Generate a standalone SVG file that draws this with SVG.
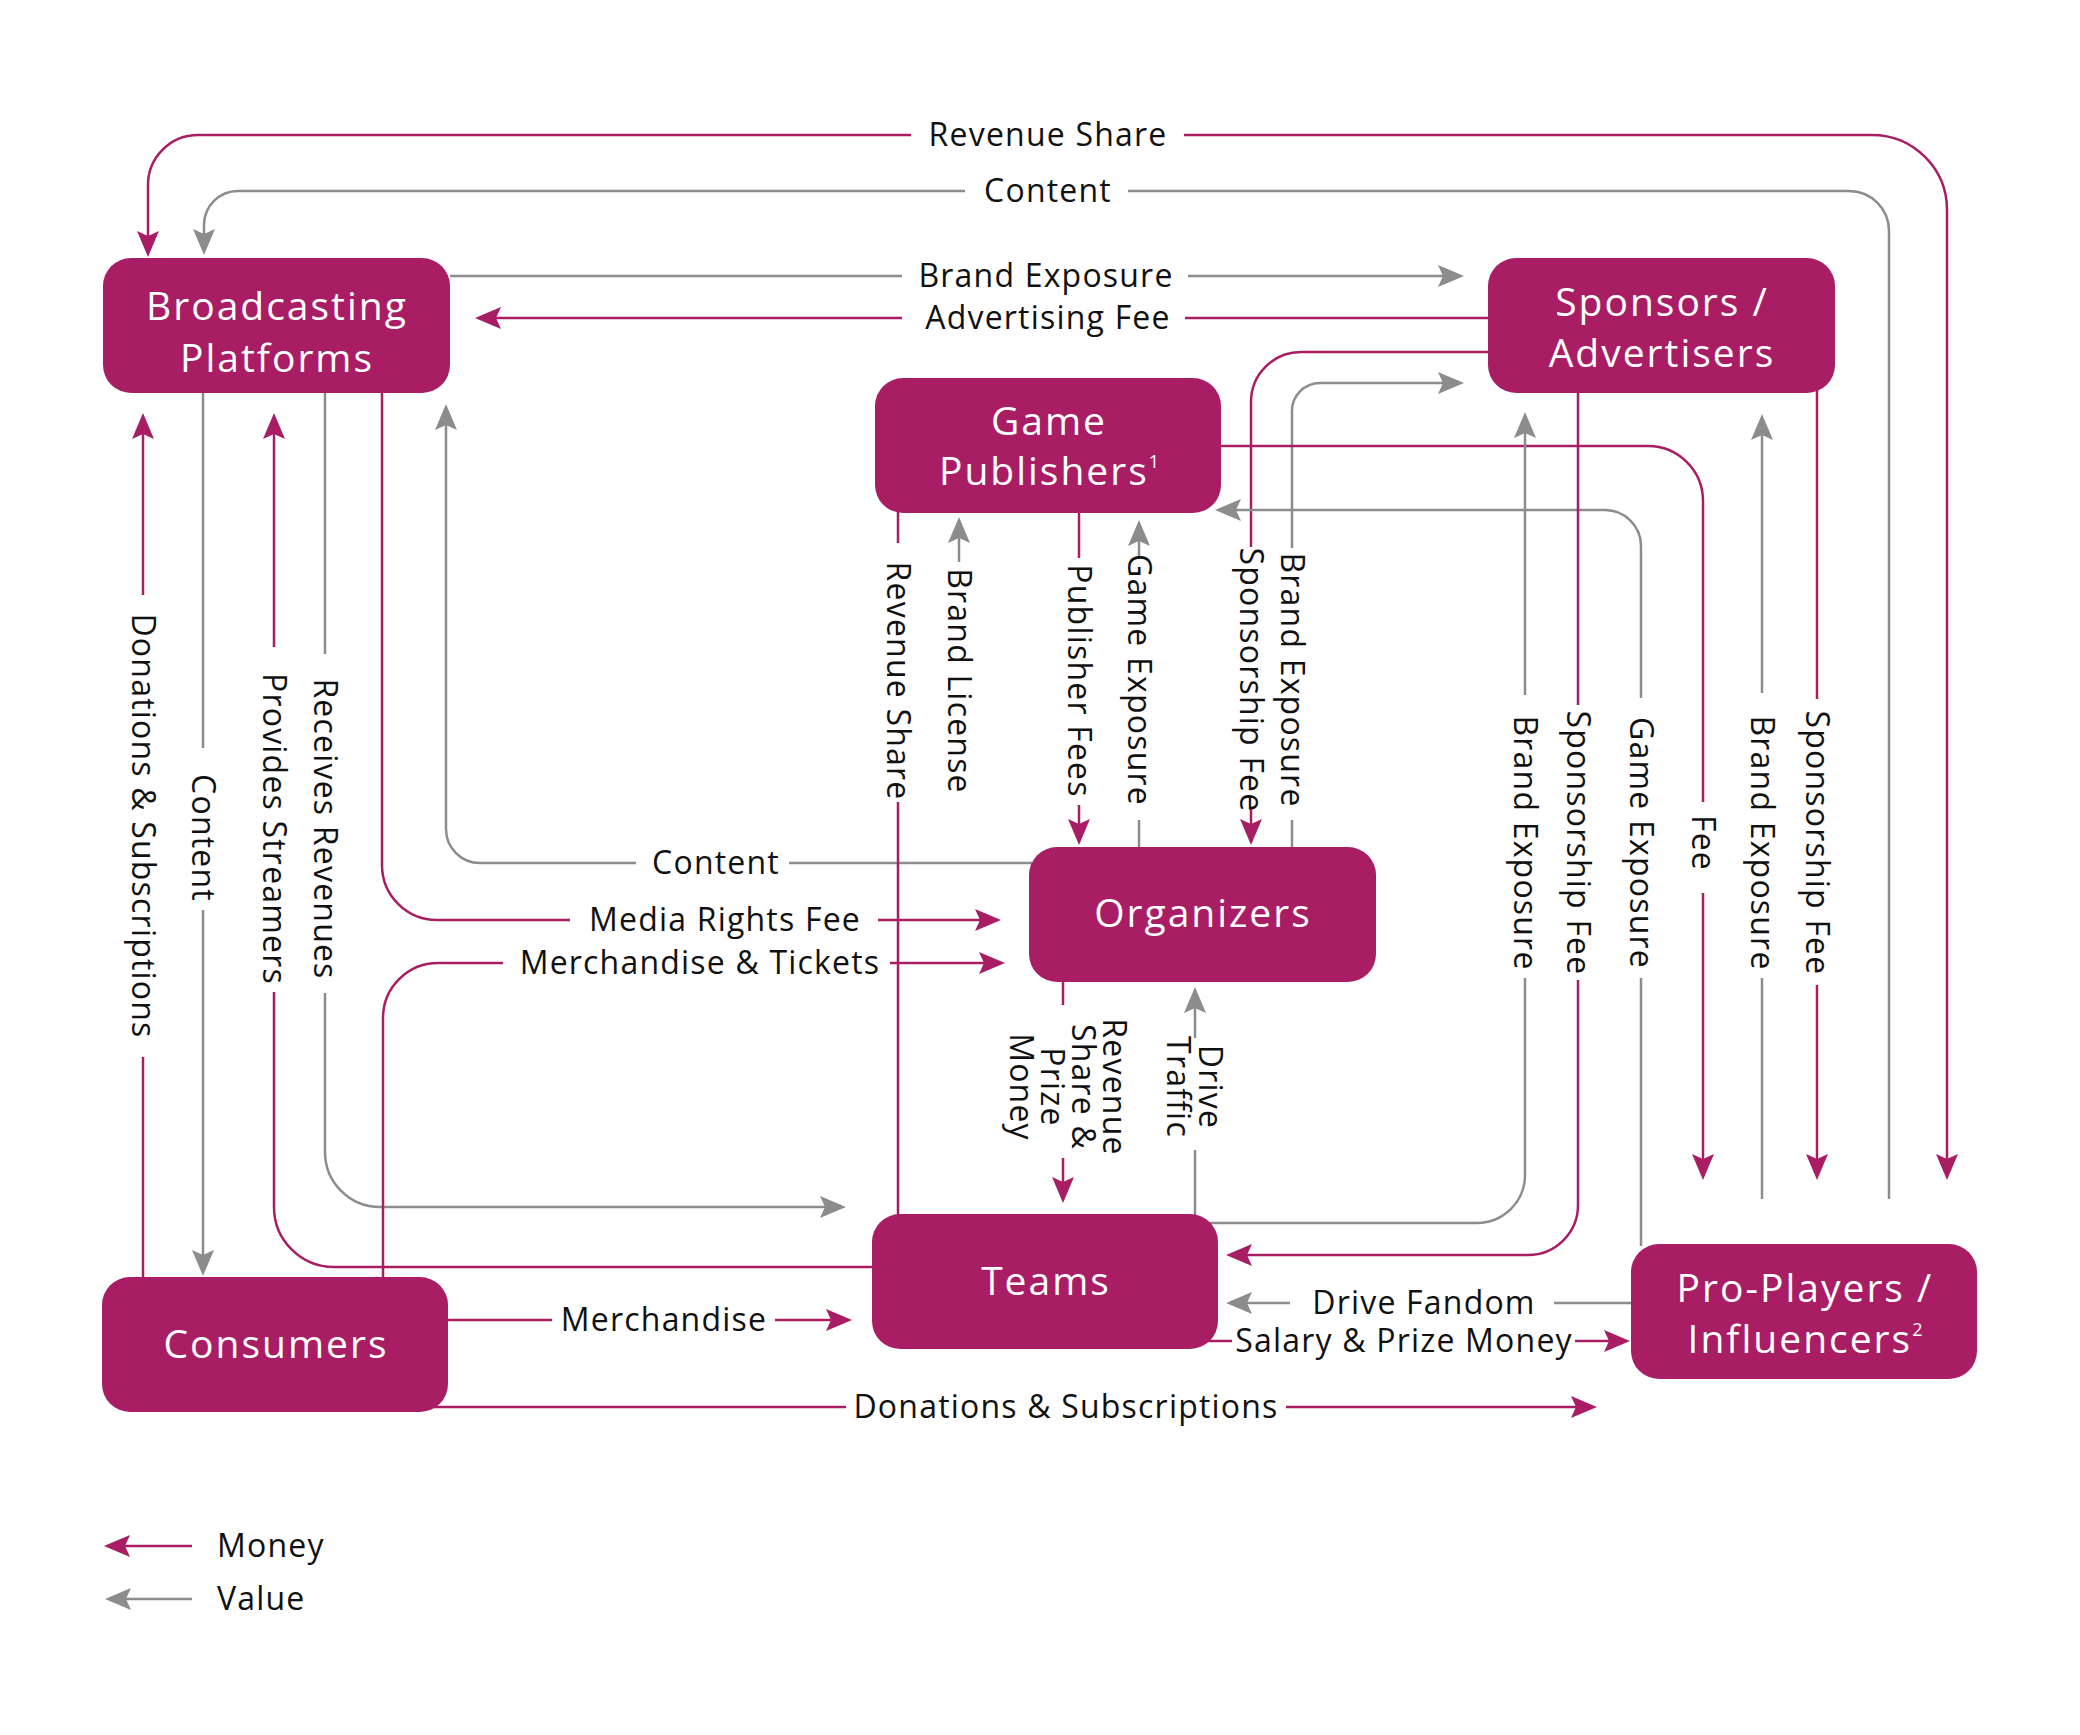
<svg xmlns="http://www.w3.org/2000/svg" width="2080" height="1735" viewBox="0 0 2080 1735">
<style>
.m{fill:none;stroke:#a91d65;stroke-width:2.5}
.g{fill:none;stroke:#8c8c8c;stroke-width:2.5}
.box{fill:#a91d65}
.nd{font-family:"Open Sans","Liberation Sans",sans-serif;font-size:39px;letter-spacing:2px;fill:#fff;text-anchor:middle}
.lb{font-family:"Open Sans","Liberation Sans",sans-serif;font-size:32px;letter-spacing:1.2px;fill:#111;text-anchor:middle}
.lg{font-family:"Open Sans","Liberation Sans",sans-serif;font-size:32px;letter-spacing:1.2px;fill:#111}
</style>
<defs>
<marker id="am" viewBox="-30 -12 32 24" markerWidth="32" markerHeight="24" refX="-4" refY="0" orient="auto" markerUnits="userSpaceOnUse"><path d="M0,0 L-26,-11 L-21,0 L-26,11 Z" fill="#a91d65"/></marker>
<marker id="ag" viewBox="-30 -12 32 24" markerWidth="32" markerHeight="24" refX="-4" refY="0" orient="auto" markerUnits="userSpaceOnUse"><path d="M0,0 L-26,-11 L-21,0 L-26,11 Z" fill="#8c8c8c"/></marker>
</defs>
<rect width="2080" height="1735" fill="#fff"/>

<g id="connectors">
<!-- Revenue Share (top) -->
<path class="m" d="M1184,135 L1872,135 A75,75 0 0 1 1947,210 L1947,1176" marker-end="url(#am)"/>
<path class="m" d="M911,135 L198,135 A50,50 0 0 0 148,185 L148,253" marker-end="url(#am)"/>
<!-- Content (top) -->
<path class="g" d="M1889,1199 L1889,231 A40,40 0 0 0 1849,191 L1128,191"/>
<path class="g" d="M965,191 L238,191 A34,34 0 0 0 204,225 L204,251" marker-end="url(#ag)"/>
<!-- Brand Exposure BP->SA -->
<path class="g" d="M450,276 L902,276"/>
<path class="g" d="M1188,276 L1460,276" marker-end="url(#ag)"/>
<!-- Advertising Fee -->
<path class="m" d="M1488,318 L1185,318"/>
<path class="m" d="M902,318 L479,318" marker-end="url(#am)"/>
<!-- Sponsorship Fee SA->ORG -->
<path class="m" d="M1490,352 L1301,352 A50,50 0 0 0 1251,402 L1251,547"/>
<path class="m" d="M1251,808 L1251,841" marker-end="url(#am)"/>
<!-- Brand Exposure ORG->SA -->
<path class="g" d="M1292,847 L1292,820"/>
<path class="g" d="M1292,548 L1292,411 A28,28 0 0 1 1320,383 L1460,383" marker-end="url(#ag)"/>
<!-- Fee GP->PRO -->
<path class="m" d="M1219,446 L1648,446 A55,55 0 0 1 1703,501 L1703,802"/>
<path class="m" d="M1703,893 L1703,1176" marker-end="url(#am)"/>
<!-- Game Exposure PRO->GP -->
<path class="g" d="M1641,1246 L1641,978"/>
<path class="g" d="M1641,698 L1641,546 A36,36 0 0 0 1605,510 L1219,510" marker-end="url(#ag)"/>
<!-- Brand Exposure TEAMS->SA -->
<path class="g" d="M1210,1223 L1477,1223 A48,48 0 0 0 1525,1175 L1525,978"/>
<path class="g" d="M1525,695 L1525,416" marker-end="url(#ag)"/>
<!-- Sponsorship Fee SA->TEAMS -->
<path class="m" d="M1578,391 L1578,705"/>
<path class="m" d="M1578,980 L1578,1205 A50,50 0 0 1 1528,1255 L1230,1255" marker-end="url(#am)"/>
<!-- Brand Exposure PRO->SA -->
<path class="g" d="M1762,1199 L1762,978"/>
<path class="g" d="M1762,693 L1762,418" marker-end="url(#ag)"/>
<!-- Sponsorship Fee SA->PRO -->
<path class="m" d="M1817,388 L1817,699"/>
<path class="m" d="M1817,985 L1817,1176" marker-end="url(#am)"/>
<!-- Donations & Subscriptions CONS->BP -->
<path class="m" d="M143,1280 L143,1057"/>
<path class="m" d="M143,595 L143,417" marker-end="url(#am)"/>
<!-- Content BP->CONS -->
<path class="g" d="M203,390 L203,748"/>
<path class="g" d="M203,910 L203,1272" marker-end="url(#ag)"/>
<!-- Provides Streamers TEAMS->BP -->
<path class="m" d="M875,1267 L334,1267 A60,60 0 0 1 274,1207 L274,992"/>
<path class="m" d="M274,647 L274,417" marker-end="url(#am)"/>
<!-- Receives Revenues BP->TEAMS -->
<path class="g" d="M325,390 L325,654"/>
<path class="g" d="M325,993 L325,1152 A55,55 0 0 0 380,1207 L842,1207" marker-end="url(#ag)"/>
<!-- Media Rights Fee BP->ORG -->
<path class="m" d="M382,390 L382,865 A55,55 0 0 0 437,920 L570,920"/>
<path class="m" d="M878,920 L997,920" marker-end="url(#am)"/>
<!-- Content ORG->BP -->
<path class="g" d="M1032,863 L789,863"/>
<path class="g" d="M636,863 L480,863 A34,34 0 0 1 446,829 L446,408" marker-end="url(#ag)"/>
<!-- Merchandise & Tickets CONS->ORG -->
<path class="m" d="M383,1280 L383,1018 A55,55 0 0 1 438,963 L503,963"/>
<path class="m" d="M890,963 L1001,963" marker-end="url(#am)"/>
<!-- Revenue Share GP-TEAMS -->
<path class="m" d="M898,510 L898,543"/>
<path class="m" d="M898,802 L898,1217"/>
<!-- Brand License -->
<path class="g" d="M959,562 L959,521" marker-end="url(#ag)"/>
<!-- Publisher Fees -->
<path class="m" d="M1079,510 L1079,558"/>
<path class="m" d="M1079,805 L1079,841" marker-end="url(#am)"/>
<!-- Game Exposure ORG->GP -->
<path class="g" d="M1139,850 L1139,820"/>
<path class="g" d="M1139,558 L1139,524" marker-end="url(#ag)"/>
<!-- Revenue Share & Prize Money ORG->TEAMS -->
<path class="m" d="M1063,979 L1063,1005"/>
<path class="m" d="M1063,1158 L1063,1199" marker-end="url(#am)"/>
<!-- Drive Traffic TEAMS->ORG -->
<path class="g" d="M1195,1217 L1195,1150"/>
<path class="g" d="M1195,1038 L1195,991" marker-end="url(#ag)"/>
<!-- Drive Fandom PRO->TEAMS -->
<path class="g" d="M1634,1303 L1554,1303"/>
<path class="g" d="M1290,1303 L1230,1303" marker-end="url(#ag)"/>
<!-- Salary & Prize Money TEAMS->PRO -->
<path class="m" d="M1205,1341 L1232,1341"/>
<path class="m" d="M1575,1341 L1626,1341" marker-end="url(#am)"/>
<!-- Merchandise CONS->TEAMS -->
<path class="m" d="M445,1320 L552,1320"/>
<path class="m" d="M775,1320 L848,1320" marker-end="url(#am)"/>
<!-- Donations & Subscriptions CONS->PRO -->
<path class="m" d="M420,1407 L846,1407"/>
<path class="m" d="M1286,1407 L1593,1407" marker-end="url(#am)"/>
</g>

<g id="labels">
<text class="lb" x="1048" y="146">Revenue Share</text>
<text class="lb" x="1048" y="202">Content</text>
<text class="lb" x="1046" y="287">Brand Exposure</text>
<text class="lb" x="1048" y="329">Advertising Fee</text>
<text class="lb" x="716" y="874">Content</text>
<text class="lb" x="725" y="931">Media Rights Fee</text>
<text class="lb" x="700" y="974">Merchandise &amp; Tickets</text>
<text class="lb" x="664" y="1331">Merchandise</text>
<text class="lb" x="1066" y="1418">Donations &amp; Subscriptions</text>
<text class="lb" x="1424" y="1314">Drive Fandom</text>
<text class="lb" x="1404" y="1352">Salary &amp; Prize Money</text>

<text class="lb" transform="translate(898,681) rotate(90)" dy="11">Revenue Share</text>
<text class="lb" transform="translate(959,681) rotate(90)" dy="11">Brand License</text>
<text class="lb" transform="translate(1079,681) rotate(90)" dy="11">Publisher Fees</text>
<text class="lb" transform="translate(1139,680) rotate(90)" dy="11">Game Exposure</text>
<text class="lb" transform="translate(1251,680) rotate(90)" dy="11">Sponsorship Fee</text>
<text class="lb" transform="translate(1292,680) rotate(90)" dy="11">Brand Exposure</text>

<text class="lb" transform="translate(1525,843) rotate(90)" dy="11">Brand Exposure</text>
<text class="lb" transform="translate(1578,843) rotate(90)" dy="11">Sponsorship Fee</text>
<text class="lb" transform="translate(1641,843) rotate(90)" dy="11">Game Exposure</text>
<text class="lb" transform="translate(1703,843) rotate(90)" dy="11">Fee</text>
<text class="lb" transform="translate(1762,843) rotate(90)" dy="11">Brand Exposure</text>
<text class="lb" transform="translate(1817,843) rotate(90)" dy="11">Sponsorship Fee</text>

<text class="lb" transform="translate(143,826) rotate(90)" dy="11">Donations &amp; Subscriptions</text>
<text class="lb" transform="translate(203,838) rotate(90)" dy="11">Content</text>
<text class="lb" transform="translate(274,829) rotate(90)" dy="11">Provides Streamers</text>
<text class="lb" transform="translate(325,829) rotate(90)" dy="11">Receives Revenues</text>

<text class="lb" transform="translate(1114,1087) rotate(90)"><tspan x="0" y="11">Revenue</tspan><tspan x="0" y="42">Share &amp;</tspan><tspan x="0" y="73">Prize</tspan><tspan x="0" y="104">Money</tspan></text>
<text class="lb" transform="translate(1210,1087) rotate(90)"><tspan x="0" y="11">Drive</tspan><tspan x="0" y="43">Traffic</tspan></text>
</g>

<g id="node-broadcasting">
<rect class="box" x="103" y="258" width="347" height="135" rx="28"/>
<text class="nd" x="277" y="320">Broadcasting</text>
<text class="nd" x="277" y="372">Platforms</text>
</g>
<g id="node-sponsors">
<rect class="box" x="1488" y="258" width="347" height="135" rx="28"/>
<text class="nd" x="1662" y="316">Sponsors /</text>
<text class="nd" x="1662" y="367">Advertisers</text>
</g>
<g id="node-publishers">
<rect class="box" x="875" y="378" width="346" height="135" rx="28"/>
<text class="nd" x="1049" y="435">Game</text>
<text class="nd" x="1049" y="485">Publishers<tspan font-size="18" dy="-17" letter-spacing="0">1</tspan></text>
</g>
<g id="node-organizers">
<rect class="box" x="1029" y="847" width="347" height="135" rx="28"/>
<text class="nd" x="1203" y="927">Organizers</text>
</g>
<g id="node-teams">
<rect class="box" x="872" y="1214" width="346" height="135" rx="28"/>
<text class="nd" x="1046" y="1295">Teams</text>
</g>
<g id="node-consumers">
<rect class="box" x="102" y="1277" width="346" height="135" rx="28"/>
<text class="nd" x="276" y="1358">Consumers</text>
</g>
<g id="node-proplayers">
<rect class="box" x="1631" y="1244" width="346" height="135" rx="28"/>
<text class="nd" x="1805" y="1302">Pro-Players /</text>
<text class="nd" x="1805" y="1353">Influencers<tspan font-size="18" dy="-17" letter-spacing="0">2</tspan></text>
</g>

<g id="legend">
<path class="m" d="M192,1546 L108,1546" marker-end="url(#am)"/>
<path class="g" d="M192,1599 L109,1599" marker-end="url(#ag)"/>
<text class="lg" x="217" y="1557">Money</text>
<text class="lg" x="217" y="1610">Value</text>
</g>
</svg>
